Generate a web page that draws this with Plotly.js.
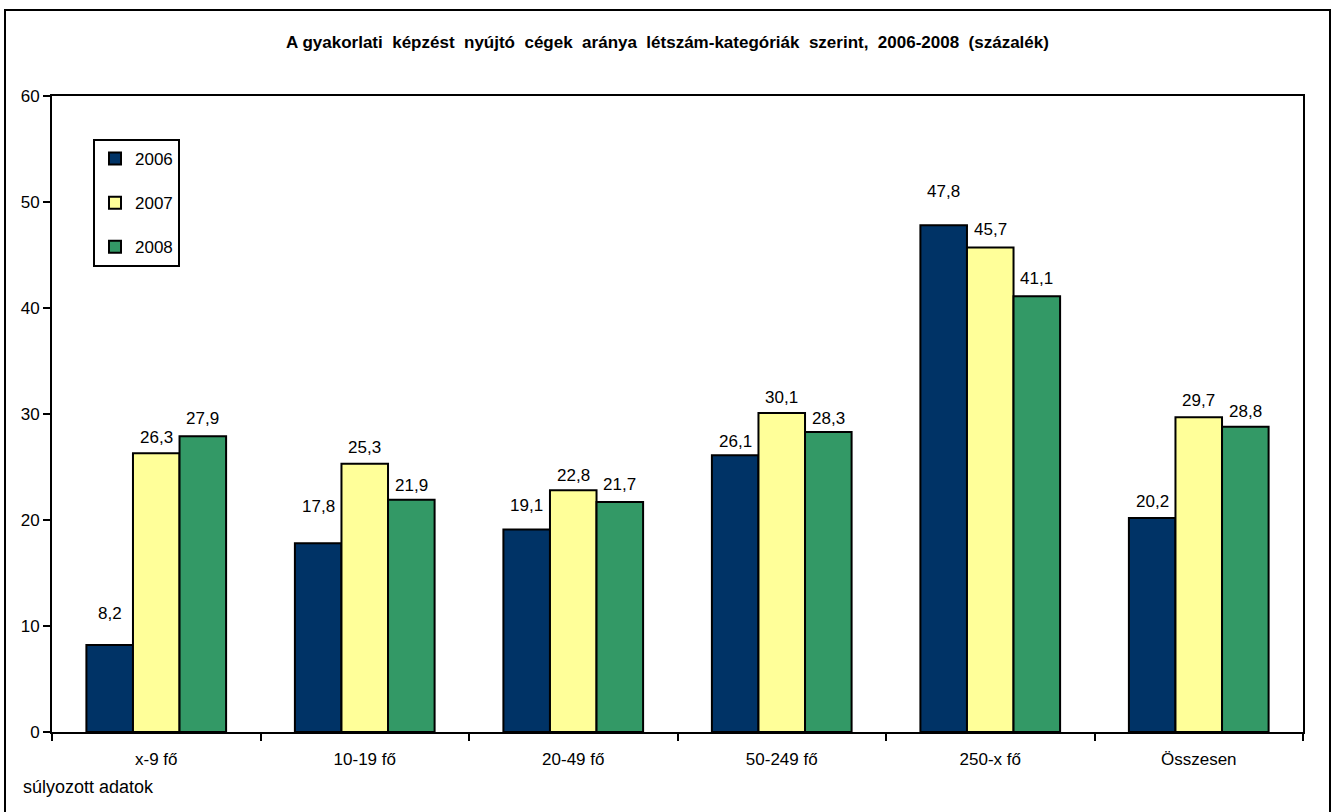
<!DOCTYPE html>
<html>
<head>
<meta charset="utf-8">
<script src="https://cdn.plot.ly/plotly-3.0.1.min.js"></script>
<style>
  html, body { margin: 0; padding: 0; background: #ffffff; }
  #chart { width: 1335px; height: 812px; }
</style>
</head>
<body>
<div id="chart"></div>
<script>
// ---- data ----
const categories = ['x-9 fő', '10-19 fő', '20-49 fő', '50-249 fő', '250-x fő', 'Összesen'];
const seriesNames = ['2006', '2007', '2008'];
const values2006 = [8.2, 17.8, 19.1, 26.1, 47.8, 20.2];
const values2007 = [26.3, 25.3, 22.8, 30.1, 45.7, 29.7];
const values2008 = [27.9, 21.9, 21.7, 28.3, 41.1, 28.8];
const yTicks = [0, 10, 20, 30, 40, 50, 60];
const titleText = 'A gyakorlati  képzést  nyújtó  cégek  aránya  létszám-kategóriák  szerint,  2006-2008  (százalék)';
const noteText = 'súlyozott adatok';

// ---- styling / layout ----
const colors = ['#003366', '#FFFF99', '#339966'];
const W = 1335, H = 812;
const plotL = 52, plotR = 1303, plotT = 96, plotB = 732;
const plotW = plotR - plotL, plotH = plotB - plotT;
const bargap = 0.33;
const FONT = 'Liberation Sans, Arial, sans-serif';
// label lift above bar tops (pixels), as placed in the original
const labelLift = [
  [32, 37, 24, 14, 34, 16],
  [16, 16, 15, 15, 18, 17],
  [18, 14, 17, 14, 18, 15]
];

const allValues = [values2006, values2007, values2008];
const px2x = p => (p - plotL) / plotW;
const px2y = p => (plotB - p) / plotH;

const traces = allValues.map((vals, i) => ({
  type: 'bar',
  name: seriesNames[i],
  x: categories,
  y: vals,
  legendgroup: 'g' + i,
  marker: { color: colors[i], line: { color: '#000000', width: 2 } },
  hoverinfo: 'none'
}));

const barPx = (plotW / categories.length) * (1 - bargap) / 3;
const annotations = [];
allValues.forEach((vals, i) => {
  vals.forEach((v, j) => {
    annotations.push({
      xref: 'x', yref: 'y',
      x: categories[j], y: v,
      xshift: (i - 1) * barPx,
      yshift: labelLift[i][j],
      yanchor: 'middle', xanchor: 'center',
      text: v.toFixed(1).replace('.', ','),
      showarrow: false,
      font: { family: FONT, size: 17, color: '#000000' }
    });
  });
});
annotations.push({
  xref: 'paper', yref: 'paper',
  x: px2x(21), y: px2y(787),
  xanchor: 'left', yanchor: 'middle',
  text: noteText, showarrow: false,
  font: { family: FONT, size: 18, color: '#000000' }
});

const layout = {
  width: W, height: H,
  margin: { l: plotL, r: W - plotR, t: plotT, b: H - plotB, pad: 0 },
  paper_bgcolor: '#ffffff',
  plot_bgcolor: '#ffffff',
  font: { family: FONT, size: 17, color: '#000000' },
  title: {
    text: '<b>' + titleText + '</b>',
    x: 0.5, xref: 'container', xanchor: 'center',
    y: 1 - 42 / H, yref: 'container', yanchor: 'middle',
    font: { family: FONT, size: 17, color: '#000000' }
  },
  barmode: 'group',
  bargap: bargap,
  bargroupgap: 0,
  showlegend: true,
  legend: {
    x: px2x(93), y: px2y(139), xanchor: 'left', yanchor: 'top',
    xref: 'paper', yref: 'paper',
    bgcolor: '#ffffff', bordercolor: '#000000', borderwidth: 2,
    font: { family: FONT, size: 17, color: '#000000' },
    traceorder: 'grouped', tracegroupgap: 19,
    entrywidth: 62, entrywidthmode: 'pixels',
    itemclick: false, itemdoubleclick: false
  },
  xaxis: {
    type: 'category',
    showline: true, linecolor: '#000000', linewidth: 2, mirror: true,
    ticks: 'outside', tickson: 'boundaries', ticklen: 7, tickwidth: 2, tickcolor: '#000000',
    showgrid: false, zeroline: false,
    tickfont: { family: FONT, size: 17, color: '#000000' },
    ticklabelstandoff: 11
  },
  yaxis: {
    range: [0, 60],
    tickvals: yTicks,
    ticktext: yTicks.map(String),
    showline: true, linecolor: '#000000', linewidth: 2, mirror: true,
    ticks: 'outside', ticklen: 7, tickwidth: 2, tickcolor: '#000000',
    showgrid: false, zeroline: false,
    tickfont: { family: FONT, size: 17, color: '#000000' }
  },
  shapes: [{
    type: 'rect', xref: 'paper', yref: 'paper',
    x0: px2x(5), x1: px2x(1330), y0: px2y(830), y1: px2y(10),
    line: { color: '#000000', width: 2 }, fillcolor: 'rgba(0,0,0,0)',
    layer: 'above'
  }],
  annotations: annotations
};

Plotly.newPlot('chart', traces, layout, { staticPlot: true, displayModeBar: false });
</script>
</body>
</html>
